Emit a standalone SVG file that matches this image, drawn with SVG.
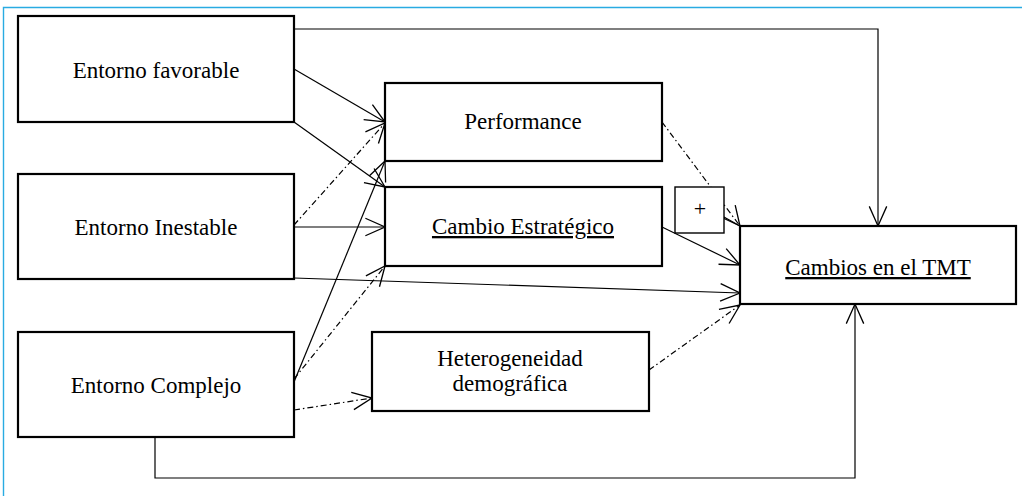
<svg xmlns="http://www.w3.org/2000/svg" width="1022" height="496" viewBox="0 0 1022 496">
  <style>
    .box { fill: #ffffff; stroke: #000000; stroke-width: 2.2; }
    .small { fill: #ffffff; stroke: #000000; stroke-width: 1.4; }
    .lbl { font-family: 'Liberation Serif', 'DejaVu Serif', serif; font-size: 23px; fill: #000000; text-anchor: middle; }
    .u { text-decoration: underline; }
    .line { fill: none; stroke: #000000; stroke-width: 1.2; }
    .solid { marker-end: url(#open); }
    .dd { stroke-dasharray: 6 3 1.5 3; marker-end: url(#open); }
  </style>
  <defs>
    <marker id="open" markerUnits="userSpaceOnUse" markerWidth="24" markerHeight="24" viewBox="-20 -10 22 20" refX="0" refY="0" orient="auto">
      <path d="M-18,-8 L0,0 L-18,8" fill="none" stroke="#000000" stroke-width="1.2"/>
    </marker>
  </defs>

  <rect width="1022" height="496" fill="#ffffff"/>
  <!-- page frame -->
  <path d="M3.5,496 V7.5 H1022" fill="none" stroke="#29abe2" stroke-width="1.4"/>

  <!-- connectors -->
  <g id="connectors">
    <path class="line solid" d="M294,29 H878 V226"/>
    <path class="line solid" d="M294,69 L385,122"/>
    <path class="line solid" d="M294,122 L385,187"/>
    <path class="line dd" d="M294,225 L385,123"/>
    <path class="line solid" d="M294,227 L385,227"/>
    <path class="line solid" d="M294,278 L740,293"/>
    <path class="line solid" d="M294,382 L385,161"/>
    <path class="line dd" d="M294,379 L385,266"/>
    <path class="line dd" d="M294,410 L372,398"/>
    <path class="line solid" d="M155,437 V478 H855 V304"/>
    <path class="line dd" d="M662,122 L740,226"/>
    <path class="line solid" d="M662,227 L740,265"/>
    <path class="line" d="M723,218 L740,226"/>
    <path class="line dd" d="M649,370 L740,305"/>
  </g>

  <g id="entorno-favorable">
    <rect class="box" x="18" y="16" width="276" height="106"/>
    <text class="lbl" x="156" y="78" font-family="Liberation Serif, serif">Entorno favorable</text>
  </g>
  <g id="entorno-inestable">
    <rect class="box" x="18" y="174" width="276" height="105"/>
    <text class="lbl" x="156" y="235" font-family="Liberation Serif, serif">Entorno Inestable</text>
  </g>
  <g id="entorno-complejo">
    <rect class="box" x="18" y="332" width="276" height="105"/>
    <text class="lbl" x="156" y="393" font-family="Liberation Serif, serif">Entorno Complejo</text>
  </g>
  <g id="performance">
    <rect class="box" x="385" y="83" width="277" height="78"/>
    <text class="lbl" x="523" y="129" font-family="Liberation Serif, serif">Performance</text>
  </g>
  <g id="cambio-estrategico">
    <rect class="box" x="385" y="187" width="277" height="79"/>
    <text class="lbl u" x="523" y="234" font-family="Liberation Serif, serif">Cambio Estratégico</text>
  </g>
  <g id="heterogeneidad">
    <rect class="box" x="372" y="332" width="277" height="79"/>
    <text class="lbl" x="510" y="366" font-family="Liberation Serif, serif">Heterogeneidad</text>
    <text class="lbl" x="510" y="391" font-family="Liberation Serif, serif">demográfica</text>
  </g>
  <g id="moderador">
    <rect class="small" x="675" y="187" width="49" height="46"/>
    <text class="lbl" x="700" y="216" font-family="Liberation Serif, serif" style="font-size:22px">+</text>
  </g>
  <g id="cambios-tmt">
    <rect class="box" x="740" y="226" width="276" height="78"/>
    <text class="lbl u" x="878" y="275" font-family="Liberation Serif, serif">Cambios en el TMT</text>
  </g>
</svg>
